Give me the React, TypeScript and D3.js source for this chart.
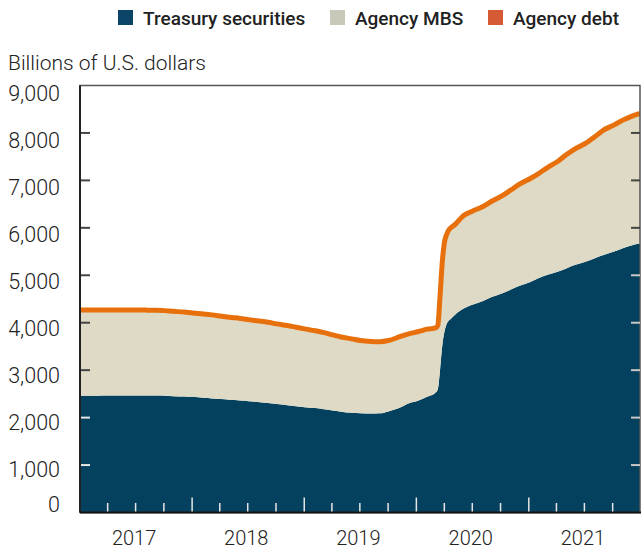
import React from "react";
import * as d3 from "d3";

const dates = [
  "2017-01-01","2017-02-01","2017-03-01","2017-04-05","2017-05-03","2017-06-07","2017-07-05","2017-08-02","2017-09-06","2017-10-04","2017-11-01","2017-12-06",
  "2018-01-03","2018-02-07","2018-03-07","2018-04-04","2018-05-02","2018-06-06","2018-07-04","2018-08-01","2018-09-05","2018-10-03","2018-11-07","2018-12-05",
  "2019-01-02","2019-02-06","2019-03-06","2019-04-03","2019-05-01","2019-06-05","2019-07-03","2019-08-07","2019-09-04","2019-10-02","2019-11-06","2019-12-04",
  "2020-01-08","2020-02-05","2020-03-04","2020-03-11","2020-03-18","2020-03-25","2020-04-01","2020-04-08","2020-04-15","2020-04-22","2020-05-06","2020-06-03",
  "2020-07-01","2020-08-05","2020-09-02","2020-10-07","2020-11-04","2020-12-02",
  "2021-01-06","2021-02-03","2021-03-03","2021-04-07","2021-05-05","2021-06-02","2021-07-07","2021-08-04","2021-09-01","2021-10-06","2021-11-03","2021-12-01","2021-12-29",
];

const treasury = [
  2463,2463,2463,2464,2464,2465,2465,2465,2465,2460,2452,2445,
  2438,2420,2405,2390,2375,2360,2345,2330,2310,2285,2260,2240,
  2220,2200,2175,2150,2125,2100,2090,2085,2090,2130,2200,2290,
  2360,2440,2530,2600,3000,3500,3800,3960,4040,4080,4170,4300,
  4380,4460,4540,4620,4700,4780,
  4860,4940,5010,5080,5150,5220,5290,5360,5430,5500,5570,5630,5670,
];

const mbs = [
  1793,1793,1795,1795,1793,1797,1795,1794,1790,1789,1783,1776,
  1763,1761,1756,1746,1736,1726,1716,1708,1698,1688,1678,1663,
  1648,1628,1613,1593,1573,1558,1533,1518,1508,1493,1498,1468,
  1453,1423,1358,1348,1548,1748,1878,1888,1908,1918,1898,1958,
  1968,1988,2018,2058,2098,2138,
  2178,2208,2258,2328,2398,2448,2498,2558,2628,2668,2698,2718,2743,
];

const agencyDebt = [
  12,12,12,11,11,8,8,7,7,6,5,4,
  4,4,4,4,4,4,4,2,2,2,2,2,
  2,2,2,2,2,2,2,2,2,2,2,2,
  2,2,2,2,2,2,2,2,2,2,2,2,
  2,2,2,2,2,2,
  2,2,2,2,2,2,2,2,2,2,2,2,2,
];

const yTicks = [0, 1000, 2000, 3000, 4000, 5000, 6000, 7000, 8000, 9000];
const yearLabels = ["2017", "2018", "2019", "2020", "2021"];
const legendItems = ["Treasury securities", "Agency MBS", "Agency debt"];

const COLORS = {
  treasury: "#03415f",
  mbs: "#dedac5",
  line: "#e8700c",
  legendTreasury: "#0b4466",
  legendMbs: "#c9c9b9",
  legendDebt: "#d65b35",
};

const W = 641;
const H = 550;
const M = { left: 80, right: 640, top: 85.5, bottom: 512.5 };
const FONT = "Roboto, 'Noto Sans', sans-serif";

export default function App() {
  const parse = d3.timeParse("%Y-%m-%d");
  const rows = dates.map((d, i) => ({
    date: parse(d) as Date,
    treasury: treasury[i],
    mbs: mbs[i],
    agencyDebt: agencyDebt[i],
  }));

  const x = d3
    .scaleTime()
    .domain([rows[0].date, rows[rows.length - 1].date])
    .range([M.left, M.right]);
  const y = d3.scaleLinear().domain([0, 9000]).range([M.bottom, M.top]);
  // label placement: labels sit slightly below their ticks; the zero label is lifted above the axis
  const yLabel = d3.scaleLinear().domain([1000, 9000]).range([469, 93.7]);

  const stack = d3.stack<any>().keys(["treasury", "mbs", "agencyDebt"]);
  const series = stack(rows);

  const curve = d3.curveMonotoneX;
  const area = d3
    .area<any>()
    .x((d) => x(d.data.date))
    .y0((d) => y(d[0]))
    .y1((d) => y(d[1]))
    .curve(curve);
  const line = d3
    .line<any>()
    .x((d) => x(d.data.date))
    .y((d) => y(d[1]))
    .curve(curve);

  const quarterTicks = d3.timeMonth.every(3)!.range(x.domain()[0], d3.timeDay.offset(x.domain()[1], 5));
  const midYears = yearLabels.map((yr) => new Date(+yr, 6, 1));

  const firstT = rows[0].treasury;
  const lastT = rows[rows.length - 1].treasury;

  const legendX = [118, 330, 488];
  const legendColors = [COLORS.legendTreasury, COLORS.legendMbs, COLORS.legendDebt];

  return (
    <svg
      width={W}
      height={H}
      style={{ position: "absolute", left: 0, top: 0, background: "#fff" }}
      fontFamily={FONT}
    >
      {/* Legend */}
      {legendItems.map((name, i) => (
        <g key={name}>
          <rect x={legendX[i]} y={10} width={15} height={15} fill={legendColors[i]} />
          <text x={legendX[i] + 25} y={25} fontSize={19} fontWeight={500} fill="#222">
            {name}
          </text>
        </g>
      ))}

      <text x={8} y={70} fontSize={21} fontWeight={300} fill="#222">
        Billions of U.S. dollars
      </text>

      <defs>
        <clipPath id="plotclip">
          <rect x={M.left} y={M.top - 4} width={M.right - M.left} height={M.bottom - M.top + 4} />
        </clipPath>
      </defs>

      <g clipPath="url(#plotclip)">
        <path d={area(series[0] as any) || ""} fill={COLORS.treasury} />
        <path d={area(series[1] as any) || ""} fill={COLORS.mbs} />
        <path d={line(series[2] as any) || ""} fill="none" stroke={COLORS.line} strokeWidth={5} strokeLinejoin="round" />
      </g>

      {/* Frame */}
      <rect
        x={M.left}
        y={M.top}
        width={M.right - M.left}
        height={M.bottom - M.top}
        fill="none"
        stroke="#555"
        strokeWidth={1.5}
      />
      <line x1={M.left} x2={M.left} y1={M.top} y2={M.bottom} stroke="#222" strokeWidth={2} />
      <line x1={M.left} x2={M.right + 1} y1={M.bottom} y2={M.bottom} stroke="#111" strokeWidth={2} />

      {/* Y ticks inside plot */}
      {yTicks.slice(1, -1).map((v) => (
        <g key={v}>
          <line
            x1={M.left + 1}
            x2={M.left + 10}
            y1={y(v)}
            y2={y(v)}
            stroke={v < firstT ? "#e6e6e6" : "#444"}
            strokeWidth={2}
          />
          <line
            x1={M.right - 9}
            x2={M.right}
            y1={y(v)}
            y2={y(v)}
            stroke={v < lastT ? "#c8c8c8" : "#444"}
            strokeWidth={2}
          />
        </g>
      ))}

      {/* Y tick labels */}
      {yTicks.map((v) => (
        <text
          key={v}
          x={60}
          y={(v === 0 ? 504 : yLabel(v)) + 7.5}
          textAnchor="end"
          fontSize={21.5}
          fontWeight={300}
          fill="#222"
        >
          {d3.format(",")(v)}
        </text>
      ))}

      {/* X ticks */}
      {quarterTicks.map((t, i) => {
        const isYear = t.getMonth() === 0;
        const px = x(t);
        if (px <= M.left + 1 || px >= M.right - 1) return null;
        return (
          <line
            key={i}
            x1={px}
            x2={px}
            y1={M.bottom - 1}
            y2={M.bottom - (isYear ? 15 : 9.5)}
            stroke="#e6e6e6"
            strokeWidth={1.5}
          />
        );
      })}
      {midYears.map((d, i) => (
        <text
          key={yearLabels[i]}
          x={x(d) - 1.5}
          y={545}
          textAnchor="middle"
          fontSize={20}
          fontWeight={300}
          fill="#222"
        >
          {yearLabels[i]}
        </text>
      ))}
    </svg>
  );
}
